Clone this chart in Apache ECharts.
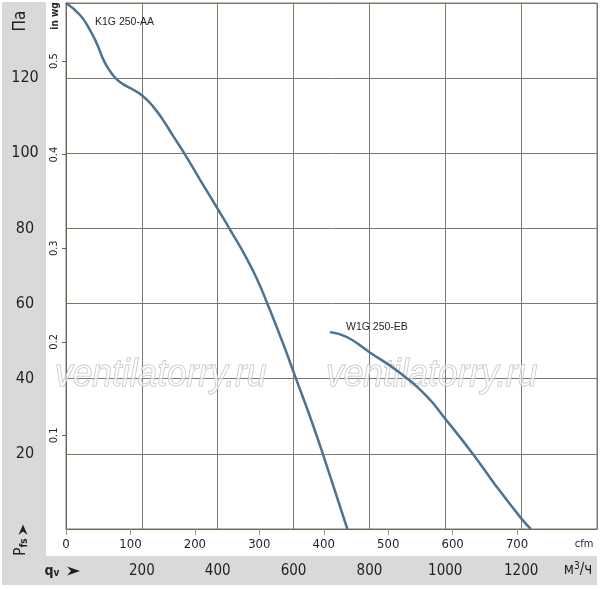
<!DOCTYPE html>
<html>
<head>
<meta charset="utf-8">
<script src="https://cdn.jsdelivr.net/npm/echarts@6/dist/echarts.min.js"></script>
<style>
  html, body { margin: 0; padding: 0; background: #ffffff; }
  #chart { width: 600px; height: 589px; }
</style>
</head>
<body>
<div id="chart"></div>
<script>
// ---- data (flow in m³/h, pressure in Pa) ----
const k1gFlow = [0, 36.9, 63.2, 81.7, 100.1, 115.9, 131.8, 150.2, 173.9, 201.6, 229.2, 255.6, 282.0, 313.6, 353.1, 400.5, 434.8, 476.9, 505.9, 529.6, 571.8, 606.1, 643.0, 677.2, 741.8];
const k1gPressure = [140, 136.8, 132.8, 129.1, 124.6, 121.9, 119.9, 118.4, 117.1, 115.3, 112.5, 108.9, 104.7, 99.7, 93.0, 85.1, 79.3, 71.9, 66.0, 60.3, 49.5, 40.1, 30.0, 20.0, 0];
const w1gFlow = [695.7, 740.4, 801.1, 880.1, 951.3, 998.7, 1073.3, 1135.7, 1199.7, 1225.3];
const w1gPressure = [52.4, 51.1, 47.0, 41.6, 35.3, 29.5, 19.9, 11.2, 2.9, 0];
const seriesNames = ['K1G 250-AA', 'W1G 250-EB'];
const flowTicksM3h = [200, 400, 600, 800, 1000, 1200];
const flowTicksCfm = [0, 100, 200, 300, 400, 500, 600, 700];
const pressureTicksPa = [20, 40, 60, 80, 100, 120];
const pressureTicksInWg = [0.1, 0.2, 0.3, 0.4, 0.5];

const M3H_PER_CFM = 1.699;
const PA_PER_INWG = 249.09;
const FLOW_MAX = 1400;
const PA_MAX = 140;

const NARROW = "'Liberation Sans Narrow', 'DejaVu Sans Condensed', 'Liberation Sans', Arial, sans-serif";
const SANS = "'Liberation Sans', Arial, sans-serif";
const TXT = '#231f20';
const GRID = '#7f776a';
const CURVE = '#4e7391';
const PANEL = '#d9d9d9';

const toPairs = (xs, ys) => xs.map((x, i) => [x, ys[i]]);

const chart = echarts.init(document.getElementById('chart'), null, { renderer: 'canvas' });

const option = {
  backgroundColor: '#ffffff',
  animation: false,
  grid: {
    left: 66, top: 3, right: 3, bottom: 60,
    show: true, borderColor: GRID, borderWidth: 1, backgroundColor: 'transparent'
  },
  xAxis: [
    {
      type: 'value', min: 0, max: FLOW_MAX, interval: 200, position: 'bottom',
      axisLine: { show: true, onZero: false, lineStyle: { color: '#6b6455', width: 1 } },
      axisTick: { show: false },
      splitLine: { show: true, lineStyle: { color: GRID, width: 1 } },
      axisLabel: {
        margin: 35, fontFamily: NARROW, fontSize: 15, color: TXT,
        customValues: flowTicksM3h,
        formatter: v => String(v)
      }
    },
    {
      type: 'value', min: 0, max: FLOW_MAX / M3H_PER_CFM, interval: 100, position: 'bottom',
      axisLine: { show: false },
      axisTick: { show: true, length: 6, lineStyle: { color: '#9a948a' }, customValues: flowTicksCfm },
      splitLine: { show: false },
      axisLabel: {
        margin: 9, fontFamily: NARROW, fontSize: 13, color: TXT,
        customValues: flowTicksCfm,
        formatter: v => String(v)
      }
    }
  ],
  yAxis: [
    {
      type: 'value', min: 0, max: PA_MAX, interval: 20, position: 'left',
      axisLine: { show: false },
      axisTick: { show: false },
      splitLine: { show: true, lineStyle: { color: GRID, width: 1 } },
      axisLabel: {
        margin: 41, align: 'center', fontFamily: NARROW, fontSize: 16, color: TXT,
        customValues: pressureTicksPa
      }
    },
    {
      type: 'value', min: 0, max: PA_MAX / PA_PER_INWG, interval: 0.1, position: 'left',
      axisLine: { show: true, onZero: false, lineStyle: { color: '#6b6455', width: 1 } },
      axisTick: { show: true, length: 4, lineStyle: { color: '#6b6455' }, customValues: pressureTicksInWg },
      splitLine: { show: false },
      axisLabel: {
        rotate: 90, margin: 6, fontFamily: NARROW, fontSize: 11, color: TXT,
        customValues: pressureTicksInWg,
        formatter: v => v.toFixed(1)
      }
    }
  ],
  series: [
    {
      name: seriesNames[0], type: 'line', xAxisIndex: 0, yAxisIndex: 0,
      data: toPairs(k1gFlow, k1gPressure),
      smooth: 0.5, symbol: 'none', z: 5,
      lineStyle: { color: CURVE, width: 2.5 }
    },
    {
      name: seriesNames[1], type: 'line', xAxisIndex: 0, yAxisIndex: 0,
      data: toPairs(w1gFlow, w1gPressure),
      smooth: 0.5, symbol: 'none', z: 5,
      lineStyle: { color: CURVE, width: 2.5 }
    }
  ],
  graphic: [
    // gray panels
    { type: 'rect', z: -100, shape: { x: 2, y: 2, width: 44, height: 555 }, style: { fill: PANEL } },
    { type: 'rect', z: -100, shape: { x: 2, y: 556, width: 595, height: 29 }, style: { fill: PANEL } },
    // watermarks
    { type: 'text', z: 1, x: 55, y: 375, scaleX: 0.93, style: {
        text: 'ventilatorry.ru', font: "italic 38px " + SANS, fill: 'rgba(255,255,255,0.5)',
        stroke: '#bdbdbd', lineWidth: 1, verticalAlign: 'middle', align: 'left' } },
    { type: 'text', z: 1, x: 326, y: 375, scaleX: 0.93, style: {
        text: 'ventilatorry.ru', font: "italic 38px " + SANS, fill: 'rgba(255,255,255,0.5)',
        stroke: '#bdbdbd', lineWidth: 1, verticalAlign: 'middle', align: 'left' } },
    // curve labels
    { type: 'text', z: 10, x: 95, y: 22, style: { text: seriesNames[0], font: "10.5px " + SANS, fill: TXT, verticalAlign: 'middle', align: 'left' } },
    { type: 'text', z: 10, x: 346, y: 327, style: { text: seriesNames[1], font: "10.5px " + SANS, fill: TXT, verticalAlign: 'middle', align: 'left' } },
    // left panel texts
    { type: 'text', z: 10, x: 21, y: 21, rotation: Math.PI / 2, style: { text: 'Па', font: "17px " + NARROW, fill: TXT, align: 'center', verticalAlign: 'middle' } },
    { type: 'text', z: 10, x: 55, y: 16, rotation: Math.PI / 2, style: { text: 'in wg', font: "bold 10px " + NARROW, fill: TXT, align: 'center', verticalAlign: 'middle' } },
    { type: 'polygon', z: 10, shape: { points: [[23, 524.5], [27.5, 535], [23, 531.5], [18.5, 535]] }, style: { fill: TXT } },
    { type: 'text', z: 10, x: 21, y: 547, rotation: Math.PI / 2, style: {
        text: '{p|P}{s|fs}', align: 'center', verticalAlign: 'middle',
        rich: { p: { font: "15px " + NARROW, fill: TXT }, s: { font: "bold 10px " + NARROW, fill: TXT, padding: [6, 0, 0, 0] } } } },
    // bottom band texts
    { type: 'text', z: 10, x: 52, y: 571, style: {
        text: '{q|q}{v|v}', align: 'center', verticalAlign: 'middle',
        rich: { q: { font: "bold 14px " + NARROW, fill: TXT }, v: { font: "bold 10px " + NARROW, fill: TXT, padding: [5, 0, 0, 0] } } } },
    { type: 'polygon', z: 10, shape: { points: [[80, 571], [67, 566.5], [71, 571], [67, 575.5]] }, style: { fill: TXT } },
    { type: 'text', z: 10, x: 578, y: 570, style: {
        text: '{a|м}{b|3}{a|/ч}', align: 'center', verticalAlign: 'middle',
        rich: { a: { font: "15px " + NARROW, fill: TXT }, b: { font: "10px " + NARROW, fill: TXT, padding: [0, 0, 7, 0] } } } },
    { type: 'text', z: 10, x: 584, y: 544, style: { text: 'cfm', font: "11px " + NARROW, fill: TXT, align: 'center', verticalAlign: 'middle' } }
  ]
};

chart.setOption(option);
</script>
</body>
</html>
